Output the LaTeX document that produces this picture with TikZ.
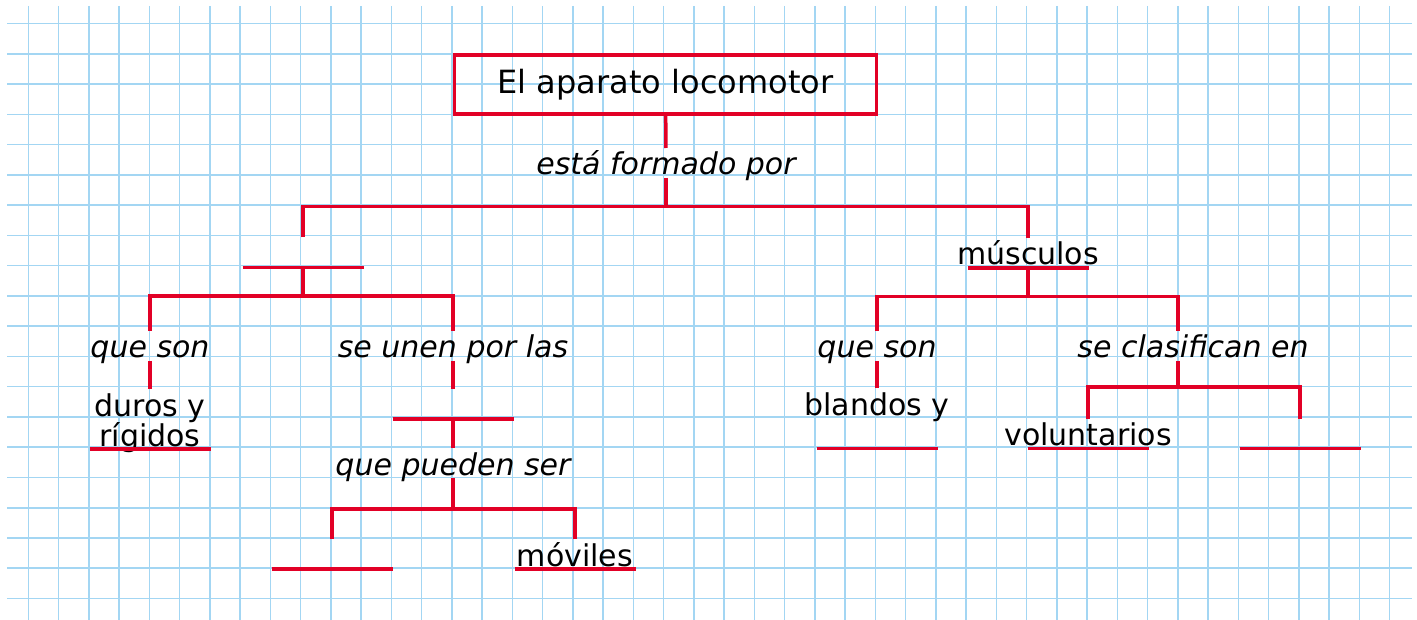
\documentclass[tikz,border=0pt]{standalone}
\usepackage{fontspec}
\setmainfont{DejaVu Sans}
\usetikzlibrary{positioning}
\definecolor{mapred}{RGB}{226,0,38}
\definecolor{gridblue}{RGB}{163,214,243}
\tikzset{
  redline/.style={draw=mapred, line width=3.5pt},
  gridline/.style={draw=gridblue, line width=1.6pt},
  box/.style={
    shape=rectangle,
    draw=mapred,
    line width=3.8pt,
    minimum width=422pt,
    minimum height=59pt,
    font=\fontsize{32}{38}\selectfont,
  },
  word/.style={
    inner sep=0pt, outer sep=0pt,
    text height=27pt, text depth=3pt,
    font=\fontsize{30}{36}\selectfont,
  },
  link/.style={
    word, anchor=base,
    font=\fontsize{30}{36}\selectfont\itshape,
  },
  blank/.style={
    word, anchor=south, minimum width=121pt,
    append after command={(\tikzlastnode.south west) edge[redline] (\tikzlastnode.south east)}
  }
}
\newcommand{\answer}[1]{\makebox[0pt]{#1}}

\begin{document}
\begin{tikzpicture}[x=1pt,y=-1pt]
\useasboundingbox (0,0) rectangle (1417,620);

% Squared paper
\foreach \k in {0,...,19}
  \draw[gridline] (7,{23.7+30.25*\k}) -- (1412,{23.7+30.25*\k});
\foreach \k in {0,...,45}
  \draw[gridline] ({28.3+30.25*\k},6) -- ({28.3+30.25*\k},620);

% Title
\node[box] (title) at (665.5,84.7) {El aparato locomotor};
\node[link] (formado) at (666,175) {está formado por};
\coordinate (top split) at (666,206.5);

% Bones
\node[blank] (huesos) at (303,267.5) {};
\coordinate (bone split) at (303,296);
\node[link] (queson1) at (150,358) {que son};
\node[link] (unen) at (453,358) {se unen por las};
\node[blank] (rigidos) at (150,449) {\answer{rígidos}};
\node[word, above=0pt of rigidos] (duros) {duros y};
\node[blank] (articulaciones) at (453,419) {};
\node[link] (pueden) at (453,475) {que pueden ser};
\coordinate (joint split) at (453,509);
\node[blank] (fijas) at (332,569) {};
\node[blank] (moviles) at (575,569) {\answer{móviles}};

% Muscles
\node[blank] (musculos) at (1028,268) {\answer{músculos}};
\coordinate (muscle split) at (1028,296.5);
\node[link] (queson2) at (877,358) {que son};
\node[link] (clasifican) at (1193,358) {se clasifican en};
\node[blank] (flexibles) at (877,448.5) {};
\node[word, above=0pt of flexibles] (blandos) {blandos y};
\coordinate (class split) at (1178,387);
\node[blank] (voluntarios) at (1088,448.5) {\answer{voluntarios}};
\node[blank] (involuntarios) at (1300,448.5) {};

% Connectors
\draw[redline] (title) -- (formado);
\draw[redline] (formado) -- (top split);
\draw[redline] (huesos) |- (top split) -| (musculos);

\draw[redline] (huesos) -- (bone split);
\draw[redline] (queson1) |- (bone split) -| (unen);
\draw[redline] (queson1) -- (duros);
\draw[redline] (unen) -- (articulaciones);
\draw[redline] (articulaciones) -- (pueden);
\draw[redline] (pueden) -- (joint split);
\draw[redline] (fijas) |- (joint split) -| (moviles);

\draw[redline] (musculos) -- (muscle split);
\draw[redline] (queson2) |- (muscle split) -| ([xshift=-15pt]clasifican.north);
\draw[redline] (queson2) -- (blandos);
\draw[redline] ([xshift=-15pt]clasifican.south) -- (class split);
\draw[redline] (voluntarios) |- (class split) -| (involuntarios);

\end{tikzpicture}
\end{document}
